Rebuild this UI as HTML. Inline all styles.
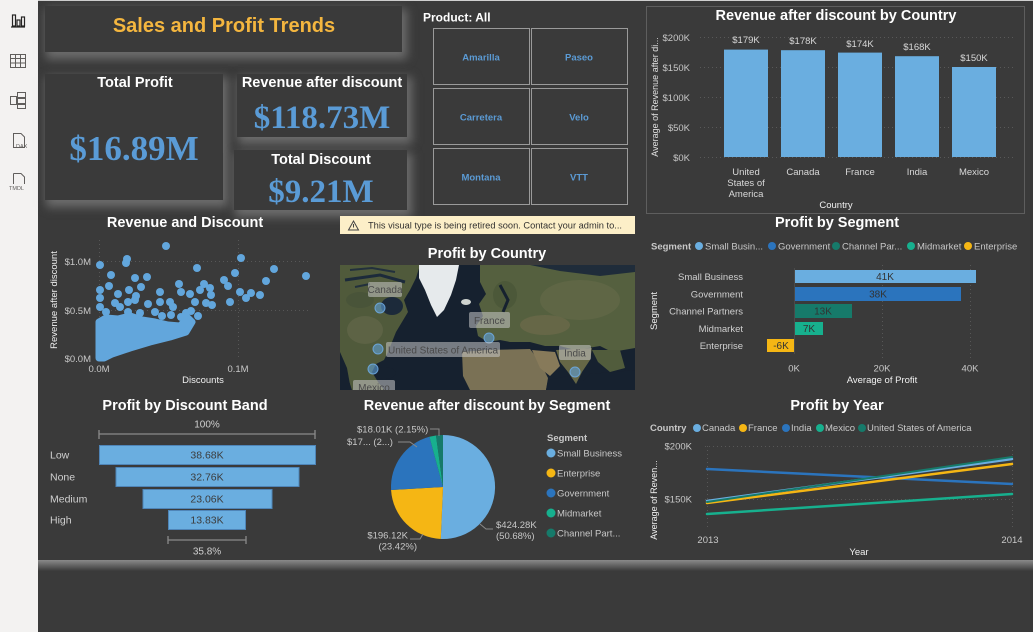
<!DOCTYPE html>
<html><head><meta charset="utf-8">
<style>
html,body{margin:0;padding:0;}
body{width:1033px;height:632px;background:#3a3a3a;position:relative;overflow:hidden;font-family:"Liberation Sans",sans-serif;}
.side{position:absolute;left:0;top:0;width:38px;height:632px;background:#f3f2f1;}
.card{position:absolute;background:#3a3a3a;box-shadow:3px 5px 9px 2px rgba(135,135,135,0.65);}
.bottom{position:absolute;left:38px;top:560px;width:995px;height:11px;background:linear-gradient(#8a8a8a,#3a3a3a);}
.topline{position:absolute;left:38px;top:0;width:995px;height:1px;background:#cfcfcf;}
svg{position:absolute;left:0;top:0;}
text{font-family:"Liberation Sans",sans-serif;}
.ct{font-weight:bold;font-size:14.5px;fill:#ffffff;text-anchor:middle;}
.ax{font-size:9.5px;fill:#c8c8c8;}
.lg{font-size:9.5px;fill:#c8c8c8;}
.kv{font-family:"Liberation Serif",serif;font-weight:bold;fill:#5a9bd6;text-anchor:middle;}
.tile{font-size:9.5px;font-weight:bold;fill:#5b9bd5;text-anchor:middle;}
</style></head><body>
<div class="side"></div>
<div class="topline"></div>
<div class="card" style="left:45px;top:6px;width:357px;height:46px"></div>
<div class="card" style="left:45px;top:74px;width:178px;height:126px"></div>
<div class="card" style="left:237px;top:74px;width:170px;height:63px"></div>
<div class="card" style="left:234px;top:150px;width:173px;height:60px"></div>
<div class="bottom"></div>

<svg width="1033" height="632" viewBox="0 0 1033 632">
<defs>
<clipPath id="mc"><rect x="340" y="265" width="295" height="125"/></clipPath>
</defs>

<!-- Sidebar icons -->
<g fill="none" stroke="#252423" stroke-width="1.2">
<line x1="11" y1="27" x2="25" y2="27"/>
<rect x="12.5" y="15" width="3" height="11"/>
<rect x="17" y="20" width="3" height="6"/>
<rect x="21.5" y="17" width="3" height="9"/>
</g>
<g fill="none" stroke="#605e5c" stroke-width="1">
<rect x="10.5" y="54.5" width="15" height="13"/>
<line x1="10.5" y1="58.5" x2="25.5" y2="58.5"/><line x1="10.5" y1="63" x2="25.5" y2="63"/>
<line x1="15.5" y1="54.5" x2="15.5" y2="67.5"/><line x1="20.5" y1="54.5" x2="20.5" y2="67.5"/>
<rect x="10.5" y="96.5" width="6" height="8"/>
<rect x="17.5" y="92.5" width="8" height="5"/><rect x="17.5" y="98.5" width="8" height="5"/><rect x="17.5" y="104.5" width="8" height="4"/>
<path d="M13.5,133.5 L21,133.5 L24.5,137 L24.5,147.5 L13.5,147.5 Z"/>
<path d="M13.5,173.5 L21,173.5 L24.5,177 L24.5,184"/><line x1="13.5" y1="173.5" x2="13.5" y2="184"/>
</g>
<text x="16" y="148" font-size="5.5" fill="#605e5c">DAX</text>
<text x="9" y="190" font-size="5.5" fill="#605e5c">TMDL</text>

<!-- Title -->
<text x="224" y="32" font-size="20" font-weight="bold" fill="#f4b63f" text-anchor="middle">Sales and Profit Trends</text>

<!-- KPI cards -->
<text class="ct" x="135" y="87">Total Profit</text>
<text class="kv" x="134" y="160" font-size="35">$16.89M</text>
<text class="ct" x="322" y="87">Revenue after discount</text>
<text class="kv" x="322" y="128" font-size="33">$118.73M</text>
<text class="ct" x="321" y="164">Total Discount</text>
<text class="kv" x="321" y="202" font-size="33">$9.21M</text>

<!-- Slicer -->
<text x="423" y="21.5" font-size="12" font-weight="bold" fill="#ffffff">Product: All</text>
<g fill="none" stroke="#9a9a9a" stroke-width="1">
<rect x="433.5" y="28.5" width="96" height="56"/><rect x="531.5" y="28.5" width="96" height="56"/>
<rect x="433.5" y="88.5" width="96" height="56"/><rect x="531.5" y="88.5" width="96" height="56"/>
<rect x="433.5" y="148.5" width="96" height="56"/><rect x="531.5" y="148.5" width="96" height="56"/>
</g>
<text class="tile" x="481" y="60.5">Amarilla</text>
<text class="tile" x="579" y="60.5">Paseo</text>
<text class="tile" x="481" y="120.5">Carretera</text>
<text class="tile" x="579" y="120.5">Velo</text>
<text class="tile" x="481" y="180.5">Montana</text>
<text class="tile" x="579" y="180.5">VTT</text>

<!-- Bar chart by Country -->
<rect x="646.5" y="6.5" width="378" height="207" fill="none" stroke="#5e5e5e"/>
<text class="ct" x="836" y="20">Revenue after discount by Country</text>
<g stroke="#595959" stroke-dasharray="1,3" stroke-width="1">
<line x1="700" y1="37.5" x2="1015" y2="37.5"/><line x1="700" y1="67.5" x2="1015" y2="67.5"/>
<line x1="700" y1="97.5" x2="1015" y2="97.5"/><line x1="700" y1="127.5" x2="1015" y2="127.5"/>
<line x1="700" y1="157.5" x2="1015" y2="157.5"/>
</g>
<text x="690" y="41" class="ax" text-anchor="end">$200K</text>
<text x="690" y="71" class="ax" text-anchor="end">$150K</text>
<text x="690" y="101" class="ax" text-anchor="end">$100K</text>
<text x="690" y="131" class="ax" text-anchor="end">$50K</text>
<text x="690" y="161" class="ax" text-anchor="end">$0K</text>
<text transform="translate(658,97) rotate(-90)" font-size="9" fill="#e0e0e0" text-anchor="middle">Average of Revenue after di...</text>
<g fill="#6aaee0">
<rect x="724" y="49.6" width="44" height="107.4"/>
<rect x="781" y="50.2" width="44" height="106.8"/>
<rect x="838" y="52.6" width="44" height="104.4"/>
<rect x="895" y="56.2" width="44" height="100.8"/>
<rect x="952" y="67" width="44" height="90"/>
</g>
<g font-size="9.5" fill="#d8d8d8" text-anchor="middle">
<text x="746" y="43">$179K</text>
<text x="803" y="44">$178K</text>
<text x="860" y="47">$174K</text>
<text x="917" y="50">$168K</text>
<text x="974" y="61">$150K</text>
<text x="746" y="175">United</text>
<text x="746" y="186">States of</text>
<text x="746" y="197">America</text>
<text x="803" y="175">Canada</text>
<text x="860" y="175">France</text>
<text x="917" y="175">India</text>
<text x="974" y="175">Mexico</text>
<text x="836" y="208" fill="#f0f0f0">Country</text>
</g>

<!-- Scatter -->
<text class="ct" x="185" y="227">Revenue and Discount</text>
<g stroke="#575757" stroke-dasharray="1,3">
<line x1="99" y1="261.5" x2="310" y2="261.5"/><line x1="99" y1="310.5" x2="310" y2="310.5"/>
<line x1="99.5" y1="240" x2="99.5" y2="358"/><line x1="238.5" y1="240" x2="238.5" y2="358"/>
</g>
<text class="ax" x="91" y="265" text-anchor="end">$1.0M</text>
<text class="ax" x="91" y="314" text-anchor="end">$0.5M</text>
<text class="ax" x="91" y="362" text-anchor="end">$0.0M</text>
<text class="ax" x="99" y="372" text-anchor="middle">0.0M</text>
<text class="ax" x="238" y="372" text-anchor="middle">0.1M</text>
<text x="203" y="383" font-size="9.5" fill="#f0f0f0" text-anchor="middle">Discounts</text>
<text transform="translate(57,300) rotate(-90)" font-size="9.5" fill="#f0f0f0" text-anchor="middle">Revenue after discount</text>
<polygon points="99,358 99,322 106,318 118,319 130,316 142,320 155,322 168,325 180,326 188,318 192,322 186,332 170,337 150,342 130,348 112,354 104,358" fill="#62a6dc" stroke="#62a6dc" stroke-width="7" stroke-linejoin="round"/>
<g fill="#62a6dc">
<circle cx="166" cy="246" r="4"/><circle cx="127" cy="259" r="4"/><circle cx="126" cy="263" r="4"/>
<circle cx="100" cy="265" r="4"/><circle cx="111" cy="275" r="4"/><circle cx="135" cy="278" r="4"/>
<circle cx="147" cy="277" r="4"/><circle cx="197" cy="268" r="4"/><circle cx="241" cy="258" r="4"/>
<circle cx="274" cy="269" r="4"/><circle cx="306" cy="276" r="4"/><circle cx="235" cy="273" r="4"/>
<circle cx="224" cy="280" r="4"/><circle cx="228" cy="286" r="4"/><circle cx="266" cy="281" r="4"/>
<circle cx="109" cy="286" r="4"/><circle cx="141" cy="287" r="4"/><circle cx="129" cy="290" r="4"/>
<circle cx="118" cy="294" r="4"/><circle cx="160" cy="292" r="4"/><circle cx="179" cy="284" r="4"/>
<circle cx="204" cy="284" r="4"/><circle cx="210" cy="288" r="4"/><circle cx="200" cy="290" r="4"/>
<circle cx="190" cy="294" r="4"/><circle cx="181" cy="292" r="4"/><circle cx="211" cy="295" r="4"/>
<circle cx="240" cy="292" r="4"/><circle cx="251" cy="293" r="4"/><circle cx="260" cy="295" r="4"/>
<circle cx="246" cy="298" r="4"/><circle cx="100" cy="298" r="4"/><circle cx="136" cy="296" r="4"/>
<circle cx="128" cy="302" r="4"/><circle cx="135" cy="300" r="4"/><circle cx="115" cy="303" r="4"/>
<circle cx="148" cy="304" r="4"/><circle cx="160" cy="302" r="4"/><circle cx="170" cy="302" r="4"/>
<circle cx="173" cy="307" r="4"/><circle cx="195" cy="302" r="4"/><circle cx="206" cy="303" r="4"/>
<circle cx="212" cy="305" r="4"/><circle cx="230" cy="302" r="4"/><circle cx="100" cy="307" r="4"/>
<circle cx="106" cy="312" r="4"/><circle cx="120" cy="307" r="4"/><circle cx="128" cy="312" r="4"/>
<circle cx="191" cy="311" r="4"/><circle cx="186" cy="313" r="4"/><circle cx="181" cy="317" r="4"/>
<circle cx="171" cy="315" r="4"/><circle cx="100" cy="290" r="4"/><circle cx="140" cy="313" r="4"/>
<circle cx="155" cy="312" r="4"/><circle cx="162" cy="316" r="4"/><circle cx="198" cy="316" r="4"/>
</g>

<!-- Notice -->
<rect x="340" y="216" width="295" height="18" fill="#fcefc8"/>
<path d="M348.5,230 L353.5,221 L358.5,230 Z" fill="none" stroke="#444" stroke-width="1"/>
<line x1="353.5" y1="224" x2="353.5" y2="227.5" stroke="#444"/>
<text x="368" y="228.5" font-size="9" fill="#323130" textLength="254" lengthAdjust="spacingAndGlyphs">This visual type is being retired soon. Contact your admin to...</text>

<!-- Map -->
<text class="ct" x="487" y="258">Profit by Country</text>
<g clip-path="url(#mc)">
<rect x="340" y="265" width="295" height="125" fill="#16212f"/>
<path d="M340,265 L420,265 L416,278 L410,290 L404,300 L408,312 L402,322 L396,332 L392,342 L388,352 L384,360 L376,364 L372,372 L378,382 L384,390 L352,390 L348,378 L344,368 L340,360 Z" fill="#505a3b"/>
<path d="M340,352 L347,368 L351,390 L340,390Z" fill="#16212f"/>
<ellipse cx="392" cy="306" rx="11" ry="9" fill="#1c2a3a"/>
<path d="M345,280 L380,275 L405,282" stroke="#1c2a3a" stroke-width="3" fill="none"/>
<path d="M350,270 L372,268 L395,272" stroke="#22303c" stroke-width="2" fill="none"/>
<path d="M355,287 L370,284" stroke="#22303c" stroke-width="2" fill="none"/>
<ellipse cx="365" cy="330" rx="18" ry="14" fill="#62664a" opacity="0.7"/>
<ellipse cx="360" cy="300" rx="14" ry="8" fill="#47533a" opacity="0.8"/>
<ellipse cx="385" cy="373" rx="11" ry="6" fill="#16212f"/>
<path d="M419,265 L459,265 L456,280 L451,295 L444,310 L437,317 L431,305 L425,290 L419,278Z" fill="#e6eaec"/>
<ellipse cx="466" cy="302" rx="5" ry="3" fill="#cfd4d0"/>
<path d="M480,265 L635,265 L635,348 L612,352 L600,346 L588,348 L575,350 L560,346 L545,346 L530,342 L515,343 L500,340 L488,342 L478,336 L476,326 L483,316 L479,304 L486,294 L480,282Z" fill="#55603f"/>
<ellipse cx="580" cy="300" rx="40" ry="20" fill="#646a49" opacity="0.7"/>
<ellipse cx="545" cy="325" rx="25" ry="10" fill="#726d4d" opacity="0.6"/>
<ellipse cx="505" cy="295" rx="12" ry="14" fill="#4a5638" opacity="0.8"/>
<path d="M530,265 L635,265 L635,272 L600,276 L560,271 Z" fill="#1f2c3a"/>
<path d="M500,285 L508,300 L503,312" stroke="#16212f" stroke-width="3" fill="none"/>
<path d="M484,342 L530,342 L528,348 L486,350Z" fill="#16212f"/>
<path d="M462,352 L486,350 L530,349 L540,362 L548,378 L546,390 L470,390 L463,376Z" fill="#7a7155"/>
<path d="M532,350 L555,352 L560,366 L550,376 L540,368Z" fill="#877a5a"/>
<path d="M556,350 L592,348 L590,360 L582,372 L576,384 L568,372 L560,362Z" fill="#666746"/>
<path d="M548,380 L568,376 L576,388 L590,374 L635,370 L635,390 L546,390Z" fill="#16212f"/>
<path d="M592,350 L620,350 L625,368 L610,372 L598,362Z" fill="#515c3c"/>
<g fill="rgba(95,160,215,0.6)" stroke="rgba(110,170,225,0.9)" stroke-width="1">
<circle cx="380" cy="308" r="5"/><circle cx="489" cy="338" r="5"/><circle cx="378" cy="349" r="5"/>
<circle cx="575" cy="372" r="5"/><circle cx="373" cy="369" r="5"/>
</g>
<g fill="rgba(200,200,200,0.55)">
<rect x="368" y="282" width="34" height="15" rx="2"/>
<rect x="469" y="312" width="41" height="16" rx="2"/>
<rect x="386" y="342" width="114" height="15" rx="2"/>
<rect x="559" y="345" width="32" height="15" rx="2"/>
<rect x="353" y="380" width="42" height="15" rx="2"/>
</g>
<g font-size="10" fill="#4a4a4a" text-anchor="middle">
<text x="385" y="293">Canada</text>
<text x="489.5" y="324">France</text>
<text x="443" y="353.5">United States of America</text>
<text x="575" y="356.5">India</text>
<text x="374" y="391">Mexico</text>
</g>
</g>

<!-- Profit by Segment -->
<text class="ct" x="837" y="227">Profit by Segment</text>
<text class="lg" x="651" y="249.5" font-weight="bold">Segment</text>
<circle cx="699" cy="246" r="4" fill="#6aaee0"/><text class="lg" x="705" y="249.5">Small Busin...</text>
<circle cx="772" cy="246" r="4" fill="#2b74bd"/><text class="lg" x="778" y="249.5">Government</text>
<circle cx="836" cy="246" r="4" fill="#167a6a"/><text class="lg" x="842" y="249.5">Channel Par...</text>
<circle cx="911" cy="246" r="4" fill="#17b08e"/><text class="lg" x="917" y="249.5">Midmarket</text>
<circle cx="968" cy="246" r="4" fill="#f5b614"/><text class="lg" x="974" y="249.5">Enterprise</text>
<g stroke="#575757" stroke-dasharray="1,3">
<line x1="882.5" y1="265" x2="882.5" y2="358"/><line x1="970.5" y1="265" x2="970.5" y2="358"/>
</g>
<rect x="794" y="270" width="182" height="13" fill="#6aaee0"/>
<rect x="794" y="287" width="167" height="14" fill="#2b74bd"/>
<rect x="794" y="304" width="58" height="14" fill="#167a6a"/>
<rect x="794" y="322" width="29" height="13" fill="#17b08e"/>
<rect x="767" y="339" width="27" height="13" fill="#f5b614"/>
<line x1="794.5" y1="268" x2="794.5" y2="354" stroke="#4a4a4a"/>
<g font-size="10" fill="#333" text-anchor="middle">
<text x="885" y="280">41K</text><text x="878" y="297.5">38K</text><text x="823" y="314.5">13K</text>
<text x="809" y="332">7K</text><text x="781" y="349">-6K</text>
</g>
<g font-size="9.5" fill="#d0d0d0" text-anchor="end">
<text x="743" y="280">Small Business</text><text x="743" y="297.5">Government</text>
<text x="743" y="314.5">Channel Partners</text><text x="743" y="332">Midmarket</text><text x="743" y="349">Enterprise</text>
</g>
<text transform="translate(657,311) rotate(-90)" font-size="9.5" fill="#f0f0f0" text-anchor="middle">Segment</text>
<g font-size="9.5" fill="#c8c8c8" text-anchor="middle">
<text x="794" y="371.5">0K</text><text x="882" y="371.5">20K</text><text x="970" y="371.5">40K</text>
</g>
<text x="882" y="383" font-size="9.5" fill="#f0f0f0" text-anchor="middle">Average of Profit</text>

<!-- Funnel -->
<text class="ct" x="185" y="410">Profit by Discount Band</text>
<text x="207" y="427.5" font-size="10" fill="#d0d0d0" text-anchor="middle">100%</text>
<g stroke="#8a8a8a" stroke-width="1.3">
<line x1="99" y1="434" x2="315" y2="434"/><line x1="99" y1="430" x2="99" y2="439"/><line x1="315" y1="430" x2="315" y2="439"/>
<line x1="168" y1="540" x2="246" y2="540"/><line x1="168" y1="536" x2="168" y2="544"/><line x1="246" y1="536" x2="246" y2="544"/>
</g>
<g fill="#6aaee0" stroke="#4f85b8" stroke-width="1">
<rect x="99.5" y="445.5" width="216" height="19"/>
<rect x="116" y="467.5" width="183" height="19"/>
<rect x="143" y="489.5" width="129" height="19"/>
<rect x="168.5" y="510.5" width="77" height="19"/>
</g>
<g font-size="10.5" fill="#3c3c3c" text-anchor="middle">
<text x="207" y="458.5">38.68K</text><text x="207" y="480.5">32.76K</text>
<text x="207" y="502.5">23.06K</text><text x="207" y="523.5">13.83K</text>
</g>
<g font-size="10.5" fill="#d0d0d0">
<text x="50" y="458.5">Low</text><text x="50" y="480.5">None</text>
<text x="50" y="502.5">Medium</text><text x="50" y="523.5">High</text>
</g>
<text x="207" y="554.5" font-size="10" fill="#d0d0d0" text-anchor="middle">35.8%</text>

<!-- Pie -->
<text class="ct" x="487" y="410">Revenue after discount by Segment</text>
<path d="M443,487 L443,435 A52,52 0 1,1 440.78,538.95 Z" fill="#6aaee0"/>
<path d="M443,487 L440.78,538.95 A52,52 0 0,1 391.08,489.94 Z" fill="#f5b614"/>
<path d="M443,487 L391.08,489.94 A52,52 0 0,1 429.38,436.81 Z" fill="#2b74bd"/>
<path d="M443,487 L429.38,436.81 A52,52 0 0,1 436,435.47 Z" fill="#17b08e"/>
<path d="M443,487 L436,435.47 A52,52 0 0,1 443,435 Z" fill="#167a6a"/>
<g fill="none" stroke="#8a8a8a" stroke-width="1">
<polyline points="480,524 486,529 493,529"/>
<polyline points="423,534 420,539 410,539"/>
<polyline points="430,429 439,429 439,436"/>
<polyline points="398,442 410,442 417,447"/>
</g>
<g font-size="9.5" fill="#c8c8c8">
<text x="496" y="528">$424.28K</text><text x="496" y="539">(50.68%)</text>
<text x="408" y="538.5" text-anchor="end">$196.12K</text><text x="417" y="549.5" text-anchor="end">(23.42%)</text>
<text x="357" y="432.5">$18.01K (2.15%)</text>
<text x="347" y="445">$17... (2...)</text>
</g>
<text x="547" y="441" font-size="9.5" font-weight="bold" fill="#c8c8c8">Segment</text>
<circle cx="551" cy="453" r="4.5" fill="#6aaee0"/><text class="lg" x="557" y="456.5" font-size="10">Small Business</text>
<circle cx="551" cy="473" r="4.5" fill="#f5b614"/><text class="lg" x="557" y="476.5" font-size="10">Enterprise</text>
<circle cx="551" cy="493" r="4.5" fill="#2b74bd"/><text class="lg" x="557" y="496.5" font-size="10">Government</text>
<circle cx="551" cy="513" r="4.5" fill="#17b08e"/><text class="lg" x="557" y="516.5" font-size="10">Midmarket</text>
<circle cx="551" cy="533" r="4.5" fill="#167a6a"/><text class="lg" x="557" y="536.5" font-size="10">Channel Part...</text>

<!-- Line chart -->
<text class="ct" x="837" y="410">Profit by Year</text>
<text class="lg" x="650" y="431" font-weight="bold">Country</text>
<circle cx="697" cy="428" r="4" fill="#6aaee0"/><text class="lg" x="702" y="431">Canada</text>
<circle cx="743" cy="428" r="4" fill="#f5b614"/><text class="lg" x="748" y="431">France</text>
<circle cx="786" cy="428" r="4" fill="#2b74bd"/><text class="lg" x="791" y="431">India</text>
<circle cx="820" cy="428" r="4" fill="#17b08e"/><text class="lg" x="825" y="431">Mexico</text>
<circle cx="862" cy="428" r="4" fill="#167a6a"/><text class="lg" x="867" y="431">United States of America</text>
<g stroke="#575757" stroke-dasharray="1,3">
<line x1="705" y1="446.5" x2="1012" y2="446.5"/><line x1="705" y1="499.5" x2="1012" y2="499.5"/>
<line x1="707.5" y1="446" x2="707.5" y2="530"/><line x1="1012.5" y1="446" x2="1012.5" y2="530"/>
</g>
<text class="ax" x="692" y="449.5" text-anchor="end">$200K</text>
<text class="ax" x="692" y="502.5" text-anchor="end">$150K</text>
<text transform="translate(657,500) rotate(-90)" font-size="9" fill="#f0f0f0" text-anchor="middle">Average of Reven...</text>
<g fill="none" stroke-width="2.5" stroke-linecap="round">
<line x1="707" y1="469" x2="1012" y2="484" stroke="#2b74bd"/>
<line x1="707" y1="514" x2="1012" y2="494" stroke="#17b08e"/>
<line x1="707" y1="503" x2="1012" y2="464" stroke="#f5b614"/>
<line x1="707" y1="501" x2="1012" y2="459" stroke="#6aaee0"/>
<line x1="707" y1="502" x2="1012" y2="457" stroke="#167a6a" stroke-width="2"/>
</g>
<text class="ax" x="708" y="543" text-anchor="middle">2013</text>
<text class="ax" x="1012" y="543" text-anchor="middle">2014</text>
<text x="859" y="555" font-size="9.5" fill="#f0f0f0" text-anchor="middle">Year</text>
</svg>
</body></html>
